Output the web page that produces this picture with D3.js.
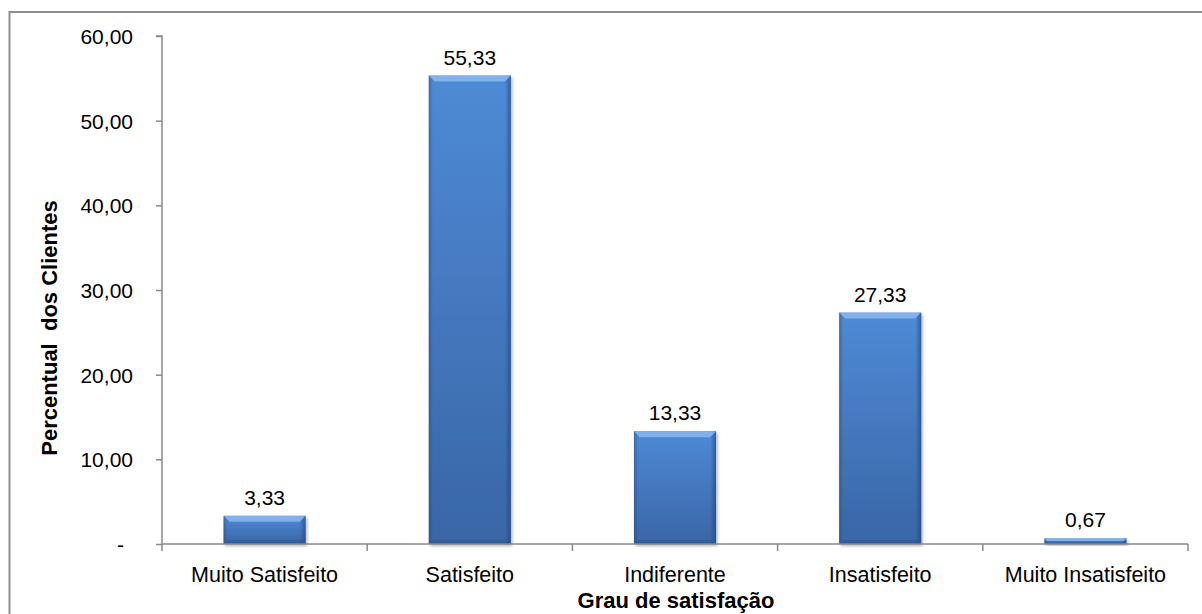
<!DOCTYPE html>
<html>
<head>
<meta charset="utf-8">
<script src="https://cdn.jsdelivr.net/npm/d3@7"></script>
<style>
  html, body { margin: 0; padding: 0; background: #fff; }
  svg { display: block; }
  text { font-family: "Liberation Sans", Arial, sans-serif; fill: #000; }
</style>
</head>
<body>
<svg id="chart" width="1202" height="614"></svg>
<script>
// Satisfaction survey: share of clients per satisfaction level (%)
const categories = ["Muito Satisfeito", "Satisfeito", "Indiferente", "Insatisfeito", "Muito Insatisfeito"];
const values = [3.33, 55.33, 13.33, 27.33, 0.67];
const yTicks = [0, 10, 20, 30, 40, 50, 60];
const yTitle = "Percentual  dos Clientes";
const xTitle = "Grau de satisfação";

const fmt = v => v === 0 ? "-" : v.toFixed(2).replace(".", ",");

const svg = d3.select("#chart");
const plot = { left: 162, right: 1188, top: 36, bottom: 544 };

const x = d3.scaleBand()
  .domain(categories)
  .range([plot.left, plot.right])
  .paddingInner(0.6)
  .paddingOuter(0.3);

const y = d3.scaleLinear().domain([0, 60]).range([plot.bottom, plot.top]);

// Outer chart frame (extends past the visible area on the right and bottom)
svg.append("rect")
  .attr("x", 9.5).attr("y", 12)
  .attr("width", 1260).attr("height", 700)
  .attr("fill", "none")
  .attr("stroke", "#8e8e8e")
  .attr("stroke-width", 2);

// Gradients for the bevelled bars
const defs = svg.append("defs");
const body = defs.append("linearGradient").attr("id", "barBody")
  .attr("x1", 0).attr("y1", 0).attr("x2", 0).attr("y2", 1);
body.append("stop").attr("offset", "0%").attr("stop-color", "#4e8ad6");
body.append("stop").attr("offset", "100%").attr("stop-color", "#3966a6");

const side = defs.append("linearGradient").attr("id", "barSide")
  .attr("x1", 0).attr("y1", 0).attr("x2", 1).attr("y2", 0);
side.append("stop").attr("offset", "0%").attr("stop-color", "#1f3f6b").attr("stop-opacity", 0.4);
side.append("stop").attr("offset", "5%").attr("stop-color", "#1f3f6b").attr("stop-opacity", 0.0);
side.append("stop").attr("offset", "93%").attr("stop-color", "#1f3f6b").attr("stop-opacity", 0.0);
side.append("stop").attr("offset", "100%").attr("stop-color", "#1f3f6b").attr("stop-opacity", 0.6);

const shadow = defs.append("filter").attr("id", "barShadow")
  .attr("x", "-10%").attr("y", "-10%").attr("width", "130%").attr("height", "130%");
shadow.append("feDropShadow")
  .attr("dx", 1.5).attr("dy", 2).attr("stdDeviation", 1.8)
  .attr("flood-color", "#000").attr("flood-opacity", 0.3);

// Bars
const bw = x.bandwidth();
const bev = 6;
const bars = svg.append("g").selectAll("g.bar")
  .data(categories.map((c, i) => ({ c, v: values[i] })))
  .join("g").attr("class", "bar");

bars.append("rect")
  .attr("x", d => x(d.c))
  .attr("y", d => y(d.v))
  .attr("width", bw)
  .attr("height", d => y(0) - y(d.v))
  .attr("fill", "url(#barBody)")
  .attr("filter", "url(#barShadow)");

bars.append("rect")
  .attr("x", d => x(d.c))
  .attr("y", d => y(d.v))
  .attr("width", bw)
  .attr("height", d => y(0) - y(d.v))
  .attr("fill", "url(#barSide)");

// Light bevel along the top edge
bars.append("path")
  .attr("d", d => {
    const x0 = x(d.c), x1 = x0 + bw, t = y(d.v);
    const b = Math.min(bev, (y(0) - t) / 2);
    return `M${x0},${t}L${x1},${t}L${x1 - b},${t + b}L${x0 + b},${t + b}Z`;
  })
  .attr("fill", "#8fbcf0").attr("opacity", 0.8);

// Soft dark bevel along the bottom edge
bars.append("path")
  .attr("d", d => {
    const x0 = x(d.c), x1 = x0 + bw, t = y(d.v), bt = y(0);
    const b = Math.min(4, (bt - t) / 2);
    return `M${x0},${bt}L${x1},${bt}L${x1 - b},${bt - b}L${x0 + b},${bt - b}Z`;
  })
  .attr("fill", "#244a7e").attr("opacity", 0.3);

// Value labels
bars.append("text")
  .attr("x", d => x(d.c) + bw / 2)
  .attr("y", d => y(d.v) - 11)
  .attr("text-anchor", "middle")
  .style("font-size", "21px")
  .text(d => fmt(d.v));

// Y axis
const yAxis = d3.axisLeft(y).tickValues(yTicks).tickSize(6).tickPadding(23).tickFormat(fmt);
const gy = svg.append("g").attr("transform", `translate(${plot.left},0)`).call(yAxis);
gy.select(".domain").attr("stroke", "#898989").attr("stroke-width", 1.5).attr("d", `M-6,${plot.top}H0V${plot.bottom}`);
gy.selectAll(".tick line").attr("stroke", "#898989").attr("stroke-width", 1.5);
gy.selectAll(".tick text")
  .style("font-size", "21px")
  .style("font-family", "'Liberation Sans', Arial, sans-serif")
  .attr("fill", "#000")
  .attr("dy", "0.36em");
gy.selectAll(".tick").filter(d => d === 0).select("text")
  .attr("x", -38);

// X axis: baseline with tick marks on category boundaries
const gx = svg.append("g");
gx.append("line")
  .attr("x1", plot.left).attr("x2", plot.right)
  .attr("y1", plot.bottom).attr("y2", plot.bottom)
  .attr("stroke", "#898989").attr("stroke-width", 1.5);
const bounds = categories.map(c => x(c) - x.step() * x.paddingInner() / 2);
bounds[0] = plot.left;
bounds.push(plot.right);
gx.selectAll("line.tick")
  .data(bounds)
  .join("line").attr("class", "tick")
  .attr("x1", d => d).attr("x2", d => d)
  .attr("y1", plot.bottom).attr("y2", plot.bottom + 7)
  .attr("stroke", "#898989").attr("stroke-width", 1.5);
gx.selectAll("text.cat")
  .data(categories)
  .join("text").attr("class", "cat")
  .attr("x", d => x(d) + bw / 2)
  .attr("y", 582)
  .attr("text-anchor", "middle")
  .style("font-size", "21.5px")
  .text(d => d);

// Axis titles
svg.append("text")
  .attr("x", (plot.left + plot.right) / 2 + 1)
  .attr("y", 608)
  .attr("text-anchor", "middle")
  .style("font-size", "22px")
  .style("font-weight", "bold")
  .text(xTitle);

svg.append("text")
  .attr("transform", "translate(57,328) rotate(-90)")
  .attr("text-anchor", "middle")
  .style("font-size", "22px")
  .style("font-weight", "bold")
  .style("white-space", "pre")
  .text(yTitle);
</script>
</body>
</html>
